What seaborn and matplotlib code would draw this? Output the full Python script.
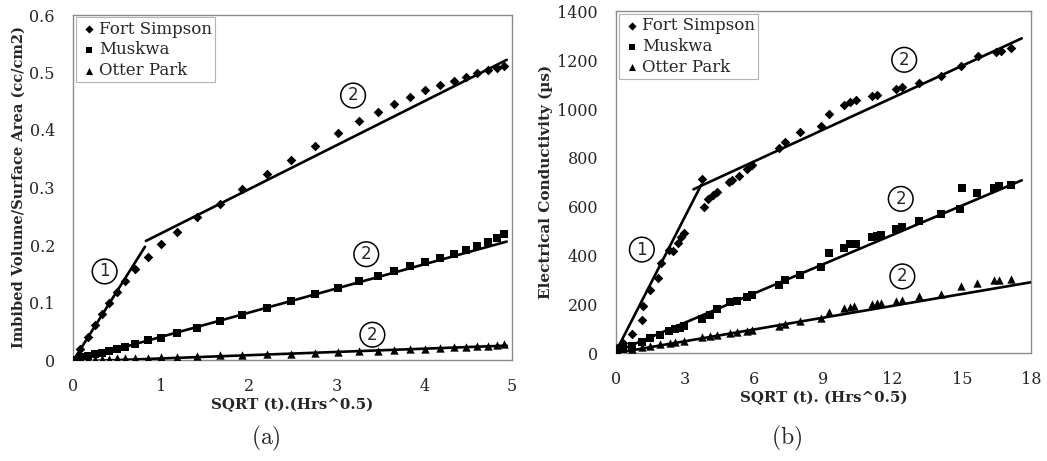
import numpy as np
import pandas as pd
import matplotlib
matplotlib.use("Agg")
import matplotlib.pyplot as plt
import seaborn as sns

# ---------------- data: panel (a) ----------------
a_x = [0, 0.08, 0.17, 0.25, 0.33, 0.41, 0.50, 0.59, 0.71, 0.85, 1.00, 1.19, 1.41, 1.67,
       1.93, 2.21, 2.48, 2.76, 3.02, 3.26, 3.47, 3.66, 3.84, 4.01, 4.18, 4.34, 4.48,
       4.60, 4.73, 4.83, 4.91]
a_fort = [0, 0.020, 0.040, 0.061, 0.080, 0.099, 0.118, 0.138, 0.158, 0.179, 0.201, 0.223,
          0.248, 0.272, 0.298, 0.324, 0.348, 0.372, 0.394, 0.415, 0.432, 0.446, 0.458,
          0.469, 0.478, 0.486, 0.493, 0.499, 0.504, 0.508, 0.512]
a_musk = [0, 0.005, 0.007, 0.010, 0.013, 0.016, 0.019, 0.023, 0.028, 0.034, 0.039, 0.047,
          0.056, 0.068, 0.079, 0.090, 0.102, 0.115, 0.126, 0.137, 0.146, 0.155, 0.163,
          0.171, 0.178, 0.185, 0.191, 0.198, 0.205, 0.212, 0.219]
a_otter = [0, 0.000, 0.001, 0.001, 0.002, 0.002, 0.003, 0.003, 0.004, 0.004, 0.005, 0.006,
           0.007, 0.008, 0.009, 0.010, 0.011, 0.012, 0.014, 0.015, 0.016, 0.018, 0.019,
           0.020, 0.021, 0.022, 0.023, 0.024, 0.025, 0.026, 0.027]
# trend-line end points (x0, x1), (y0, y1)
a_fort_l1 = ([0.02, 0.82], [0.003, 0.197])
a_fort_l2 = ([0.83, 4.94], [0.207, 0.522])
a_musk_l = ([0.0, 4.94], [-0.002, 0.206])
a_otter_l = ([0.0, 4.94], [-0.003, 0.025])
a_notes = [("1", 0.36, 0.154), ("2", 3.19, 0.46), ("2", 3.34, 0.184), ("2", 3.41, 0.044)]

# ---------------- data: panel (b) ----------------
b_fort_x = [0.03, 0.32, 0.68, 1.12, 1.19, 1.48, 1.84, 1.95, 2.32, 2.48, 2.71, 2.81, 2.96,
            3.72, 3.83, 4.01, 4.20, 4.38, 4.88, 5.03, 5.32, 5.68, 5.90, 7.06, 7.35, 8.00,
            8.87, 9.23, 9.88, 10.14, 10.40, 11.12, 11.30, 12.13, 12.42, 13.14, 14.09,
            14.96, 15.68, 16.48, 16.70, 17.13]
b_fort_y = [19, 40, 78, 137, 192, 257, 309, 370, 422, 417, 452, 475, 490, 712, 600, 630,
            646, 660, 701, 709, 726, 753, 769, 842, 863, 904, 929, 979, 1016, 1027, 1037,
            1052, 1057, 1082, 1089, 1107, 1134, 1178, 1219, 1233, 1240, 1250]
b_musk_x = [0.03, 0.30, 0.68, 1.12, 1.48, 1.91, 2.32, 2.57, 2.78, 2.93, 3.72, 4.09, 4.38,
            4.96, 5.25, 5.68, 5.90, 7.06, 7.35, 8.00, 8.87, 9.23, 9.88, 10.14, 10.40, 11.12,
            11.30, 11.50, 12.13, 12.42, 13.14, 14.09, 14.93, 14.99, 15.65, 16.41, 16.60,
            17.13]
b_musk_y = [10, 15, 30, 45, 60, 75, 89, 99, 104, 111, 138, 156, 180, 211, 215, 229, 239,
            280, 300, 321, 351, 410, 431, 445, 448, 476, 481, 484, 509, 517, 540, 568, 591,
            677, 654, 677, 685, 687]
b_otter_x = [0.03, 0.68, 1.12, 1.48, 1.90, 2.35, 2.57, 2.93, 3.72, 4.09, 4.38, 4.96, 5.25,
             5.68, 5.90, 7.06, 7.35, 8.00, 8.87, 9.23, 9.88, 10.14, 10.32, 11.12, 11.30,
             11.50, 12.13, 12.42, 13.14, 14.09, 14.96, 15.65, 16.41, 16.60, 17.13]
b_otter_y = [5, 17, 24, 30, 37, 40, 45, 51, 65, 68, 74, 82, 85, 91, 93, 112, 117, 132, 143,
             170, 183, 187, 191, 200, 204, 206, 215, 218, 232, 243, 276, 287, 298, 300, 303]
b_fort_l1 = ([0.03, 3.70], [12, 690])
b_fort_l2 = ([3.36, 17.6], [671, 1290])
b_musk_l = ([0.0, 17.6], [5, 708])
b_otter_l = ([0.0, 18.0], [0, 290])
b_notes = [("1", 1.12, 424), ("2", 12.5, 1202), ("2", 12.35, 632), ("2", 12.42, 314)]

series_names = ["Fort Simpson", "Muskwa", "Otter Park"]

# ---------------- style ----------------
sns.set_theme(style="white")
plt.rcParams["font.family"] = ["DejaVu Serif"]
plt.rcParams["mathtext.fontset"] = "cm"

fig = plt.figure(figsize=(10.47, 4.61), dpi=100)
W, H = 1047, 461
axA = fig.add_axes([73 / W, (H - 360) / H, 439 / W, 345 / H])
axB = fig.add_axes([616 / W, (H - 353) / H, 415 / W, 341.5 / H])

marker_kw = dict(color="black", edgecolor="black", linewidth=0)
mk = {"Fort Simpson": ("D", 24), "Muskwa": ("s", 32), "Otter Park": ("^", 36)}


def draw(ax, xs, ys, lines, notes):
    for name, x, y in zip(series_names, xs, ys):
        m, s = mk[name]
        sns.scatterplot(x=x, y=y, ax=ax, marker=m, s=s, label=name, zorder=3, **marker_kw)
    for lx, ly in lines:
        sns.lineplot(x=lx, y=ly, ax=ax, color="black", linewidth=1.9, estimator=None,
                     sort=False, legend=False, zorder=4)
    for t, x, y in notes:
        ax.text(x, y, t, ha="center", va="center", fontsize=12, family="DejaVu Sans",
                zorder=5,
                bbox=dict(boxstyle="circle,pad=0.2", fc="white", ec="black", lw=1.1))
    for sp in ax.spines.values():
        sp.set_color("#8c8c8c")
        sp.set_linewidth(1.0)
        sp.set_visible(True)
    ax.tick_params(length=0, labelsize=11.5)
    ax.tick_params(axis="y", pad=13)
    ax.tick_params(axis="x", pad=13)
    leg = ax.legend(loc="upper left", fontsize=12, frameon=True, fancybox=False,
                    handletextpad=0.0, borderpad=0.2, labelspacing=0.22,
                    handlelength=1.2, borderaxespad=0.15, markerscale=0.85)
    leg.get_frame().set_edgecolor("#a0a0a0")
    leg.get_frame().set_linewidth(0.8)


draw(axA, [a_x, a_x, a_x], [a_fort, a_musk, a_otter],
     [a_fort_l1, a_fort_l2, a_musk_l, a_otter_l], a_notes)
axA.set_xlim(0, 5)
axA.set_ylim(0, 0.6)
axA.set_xticks([0, 1, 2, 3, 4, 5])
axA.set_yticks([0, 0.1, 0.2, 0.3, 0.4, 0.5, 0.6])
axA.set_yticklabels(["0", "0.1", "0.2", "0.3", "0.4", "0.5", "0.6"])
axA.set_xlabel("SQRT (t).(Hrs^0.5)", fontsize=10.8, fontweight="bold", labelpad=2)
axA.set_ylabel("Imbibed Volume/Surface Area (cc/cm2)", fontsize=10.5, fontweight="bold",
               labelpad=3)

draw(axB, [b_fort_x, b_musk_x, b_otter_x], [b_fort_y, b_musk_y, b_otter_y],
     [b_fort_l1, b_fort_l2, b_musk_l, b_otter_l], b_notes)
axB.set_xlim(0, 18)
axB.set_ylim(0, 1400)
axB.set_xticks([0, 3, 6, 9, 12, 15, 18])
axB.set_yticks([0, 200, 400, 600, 800, 1000, 1200, 1400])
axB.set_xlabel("SQRT (t). (Hrs^0.5)", fontsize=10.8, fontweight="bold", labelpad=2)
axB.set_ylabel("Electrical Conductivity (µs)", fontsize=11, fontweight="bold", labelpad=3)

fig.text(266 / W, 1 - 438 / H, r"$\mathrm{(a)}$", ha="center", va="center", fontsize=17)
fig.text(787 / W, 1 - 438 / H, r"$\mathrm{(b)}$", ha="center", va="center", fontsize=17)

fig.savefig("out.png", dpi=100)
